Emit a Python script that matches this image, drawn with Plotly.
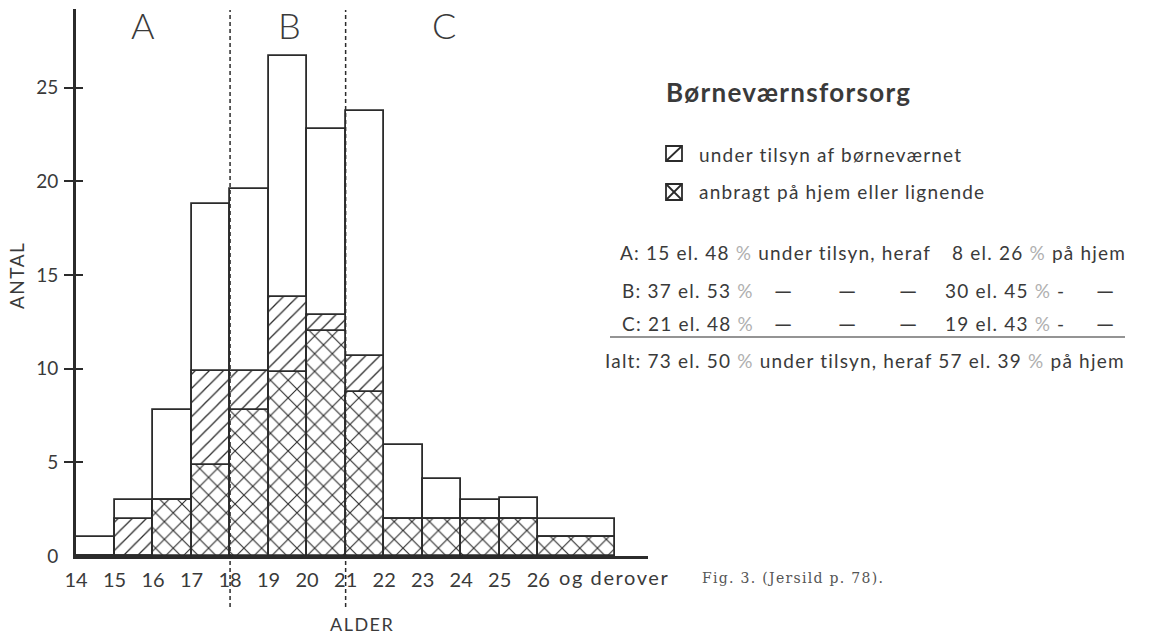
import plotly.graph_objects as go

# ---------------- data ----------------
ages = [14, 15, 16, 17, 18, 19, 20, 21, 22, 23, 24, 25, 26]
bin_widths = [1] * 12 + [2]
totals = [1, 3, 7.8, 18.8, 19.6, 26.7, 22.8, 23.75, 5.9, 4.1, 3, 3.1, 2]
tilsyn = [0, 2, 3, 9.85, 9.85, 13.8, 12.85, 10.7, 2, 2, 2, 2, 1]
hjem = [0, 0, 3, 4.85, 7.8, 9.8, 12, 8.75, 2, 2, 2, 2, 1]
x_ticks = list(range(14, 27))
x_labels = [str(v) for v in x_ticks]
y_ticks = [0, 5, 10, 15, 20, 25]
group_bounds = [18, 21]
group_labels = ["A", "B", "C"]
group_label_x = [15.75, 19.55, 23.55]

INK = "#2b2b2b"
TXT = "#3a3a3a"
FONT = "Lato, 'Open Sans', sans-serif"

W, H = 1153, 638
L, R, T, B = 76, 648, 9, 556


def px2x(px):
    return (px - L) / (R - L)


def py2y(py):
    return (B - py) / (B - T)


fig = go.Figure()
fig.add_trace(go.Bar(x=ages, y=totals, width=bin_widths, offset=0,
                     marker=dict(color="white", line=dict(color=INK, width=1.8)),
                     hoverinfo="skip"))
fig.add_trace(go.Bar(x=ages, y=tilsyn, width=bin_widths, offset=0,
                     marker=dict(color="white",
                                 pattern=dict(shape="/", size=10, solidity=0.13,
                                              fgcolor=INK, bgcolor="white", fillmode="replace"),
                                 line=dict(color=INK, width=1.8)),
                     hoverinfo="skip"))
fig.add_trace(go.Bar(x=ages, y=hjem, width=bin_widths, offset=0,
                     marker=dict(color="white",
                                 pattern=dict(shape="x", size=12.5, solidity=0.17,
                                              fgcolor=INK, bgcolor="white", fillmode="replace"),
                                 line=dict(color=INK, width=1.8)),
                     hoverinfo="skip"))
# helper traces so the tick-only overlay axes are drawn
fig.add_trace(go.Scatter(x=[None], y=[None], yaxis="y2", showlegend=False, hoverinfo="skip"))
fig.add_trace(go.Scatter(x=[None], y=[None], yaxis="y3", showlegend=False, hoverinfo="skip"))

yr = [0, 29.2]
fig.update_layout(
    width=W, height=H,
    margin=dict(l=L, r=W - R, t=T, b=H - B, pad=0),
    paper_bgcolor="white", plot_bgcolor="white",
    barmode="overlay", bargap=0, showlegend=False,
    font=dict(family=FONT, color=TXT),
    xaxis=dict(range=[14, 28.85], showline=True, linewidth=3, linecolor=INK,
               tickvals=x_ticks, ticktext=x_labels, ticks="", showgrid=False,
               zeroline=False, tickfont=dict(size=20, color=TXT), ticklabelstandoff=4),
    yaxis=dict(range=yr, showline=True, linewidth=3, linecolor=INK,
               tickvals=y_ticks, ticks="outside", ticklen=11, tickcolor="rgba(0,0,0,0)",
               showgrid=False, zeroline=False, tickfont=dict(size=19, color=TXT)),
    yaxis2=dict(range=yr, overlaying="y", anchor="x", side="left",
                tickvals=y_ticks[1:], ticks="outside", ticklen=11, tickwidth=2,
                tickcolor=INK, showticklabels=False, showline=False,
                showgrid=False, zeroline=False),
    yaxis3=dict(range=yr, overlaying="y", anchor="x", side="left",
                tickvals=y_ticks[1:], ticks="inside", ticklen=7, tickwidth=2,
                tickcolor=INK, showticklabels=False, showline=False,
                showgrid=False, zeroline=False),
)

shapes = []
for gb in group_bounds:
    shapes.append(dict(type="line", xref="x", yref="paper", x0=gb, x1=gb,
                       y0=py2y(607), y1=py2y(10),
                       line=dict(color=INK, width=1.5, dash="4px,3px")))
# legend icons
for (top, bot, cross) in [(146, 161, False), (184, 200, True)]:
    shapes.append(dict(type="rect", xref="paper", yref="paper",
                       x0=px2x(666), x1=px2x(682), y0=py2y(bot), y1=py2y(top),
                       line=dict(color=INK, width=1.8)))
    shapes.append(dict(type="line", xref="paper", yref="paper",
                       x0=px2x(666), x1=px2x(682), y0=py2y(bot), y1=py2y(top),
                       line=dict(color=INK, width=1.8)))
    if cross:
        shapes.append(dict(type="line", xref="paper", yref="paper",
                           x0=px2x(666), x1=px2x(682), y0=py2y(top), y1=py2y(bot),
                           line=dict(color=INK, width=1.8)))
# rule above the total row
shapes.append(dict(type="line", xref="paper", yref="paper",
                   x0=px2x(610), x1=px2x(1125), y0=py2y(337), y1=py2y(337),
                   line=dict(color=INK, width=1.2)))
fig.update_layout(shapes=shapes)

anns = []


def sp(text, ls=1.2):
    return f'<span style="letter-spacing:{ls}px">{text}</span>'


def ann(text, px, py, xanchor="left", size=19, color=TXT, family=FONT, weight=None, angle=0):
    f = dict(size=size, color=color, family=family)
    if weight is not None:
        f["weight"] = weight
    anns.append(dict(text=text, xref="paper", yref="paper", x=px2x(px), y=py2y(py),
                     xanchor=xanchor, yanchor="middle", showarrow=False, font=f,
                     textangle=angle))


for lab, gx in zip(group_labels, group_label_x):
    anns.append(dict(text=lab, xref="x", yref="paper", x=gx, y=py2y(25),
                     xanchor="center", yanchor="middle", showarrow=False,
                     font=dict(size=36, color=TXT, family=FONT, weight=300)))

anns.append(dict(text=sp("og derover", 1.6), xref="x", yref="paper", x=26.5, y=py2y(577),
                 xanchor="left", yanchor="middle", showarrow=False,
                 font=dict(size=20, color=TXT, family=FONT)))

ann(sp("ANTAL", 1.5), 16, 276, xanchor="center", size=19, angle=-90)
ann(sp("ALDER", 1.5), 362, 624, xanchor="center", size=18)

ann("<b>" + sp("Børneværnsforsorg", 1.3) + "</b>", 664, 92, size=26, color="#3a3a3a")
ann(sp("under tilsyn af børneværnet"), 697, 155)
ann(sp("anbragt på hjem eller lignende"), 697, 192)

P = '</span><span style="color:#b0b0b0;letter-spacing:1.2px">%</span><span style="letter-spacing:1.2px">'


def row(s):
    return '<span style="letter-spacing:1.2px">' + s.replace("%", P) + "</span>"


ann(row("A: 15 el. 48 % under tilsyn, heraf"), 618, 253)
ann(row("8 el. 26 % på hjem"), 1128, 253, xanchor="right")
for label, first, py in [("B: 37 el. 53", "30 el. 45", 290),
                         ("C: 21 el. 48", "19 el. 43", 323)]:
    ann(row(f"{label} %"), 620, py)
    for dx in (783, 847, 908):
        ann("—", dx, py, xanchor="center", size=23)
    ann(row(f"{first} %"), 943, py)
    ann("-", 1060, py, xanchor="center")
    ann("—", 1105, py, xanchor="center", size=23)
ann(row("Ialt: 73 el. 50 % under tilsyn, heraf 57 el. 39 % på hjem"), 1127, 360, xanchor="right")

ann(sp("Fig. 3. (Jersild p. 78).", 1.3), 700, 578, size=14, color="#555", family="'DejaVu Serif', serif")

fig.update_layout(annotations=anns)
fig.write_html("out.html", config={"displayModeBar": False},
               post_script="document.body.style.margin='0';document.body.style.overflow='hidden';")
